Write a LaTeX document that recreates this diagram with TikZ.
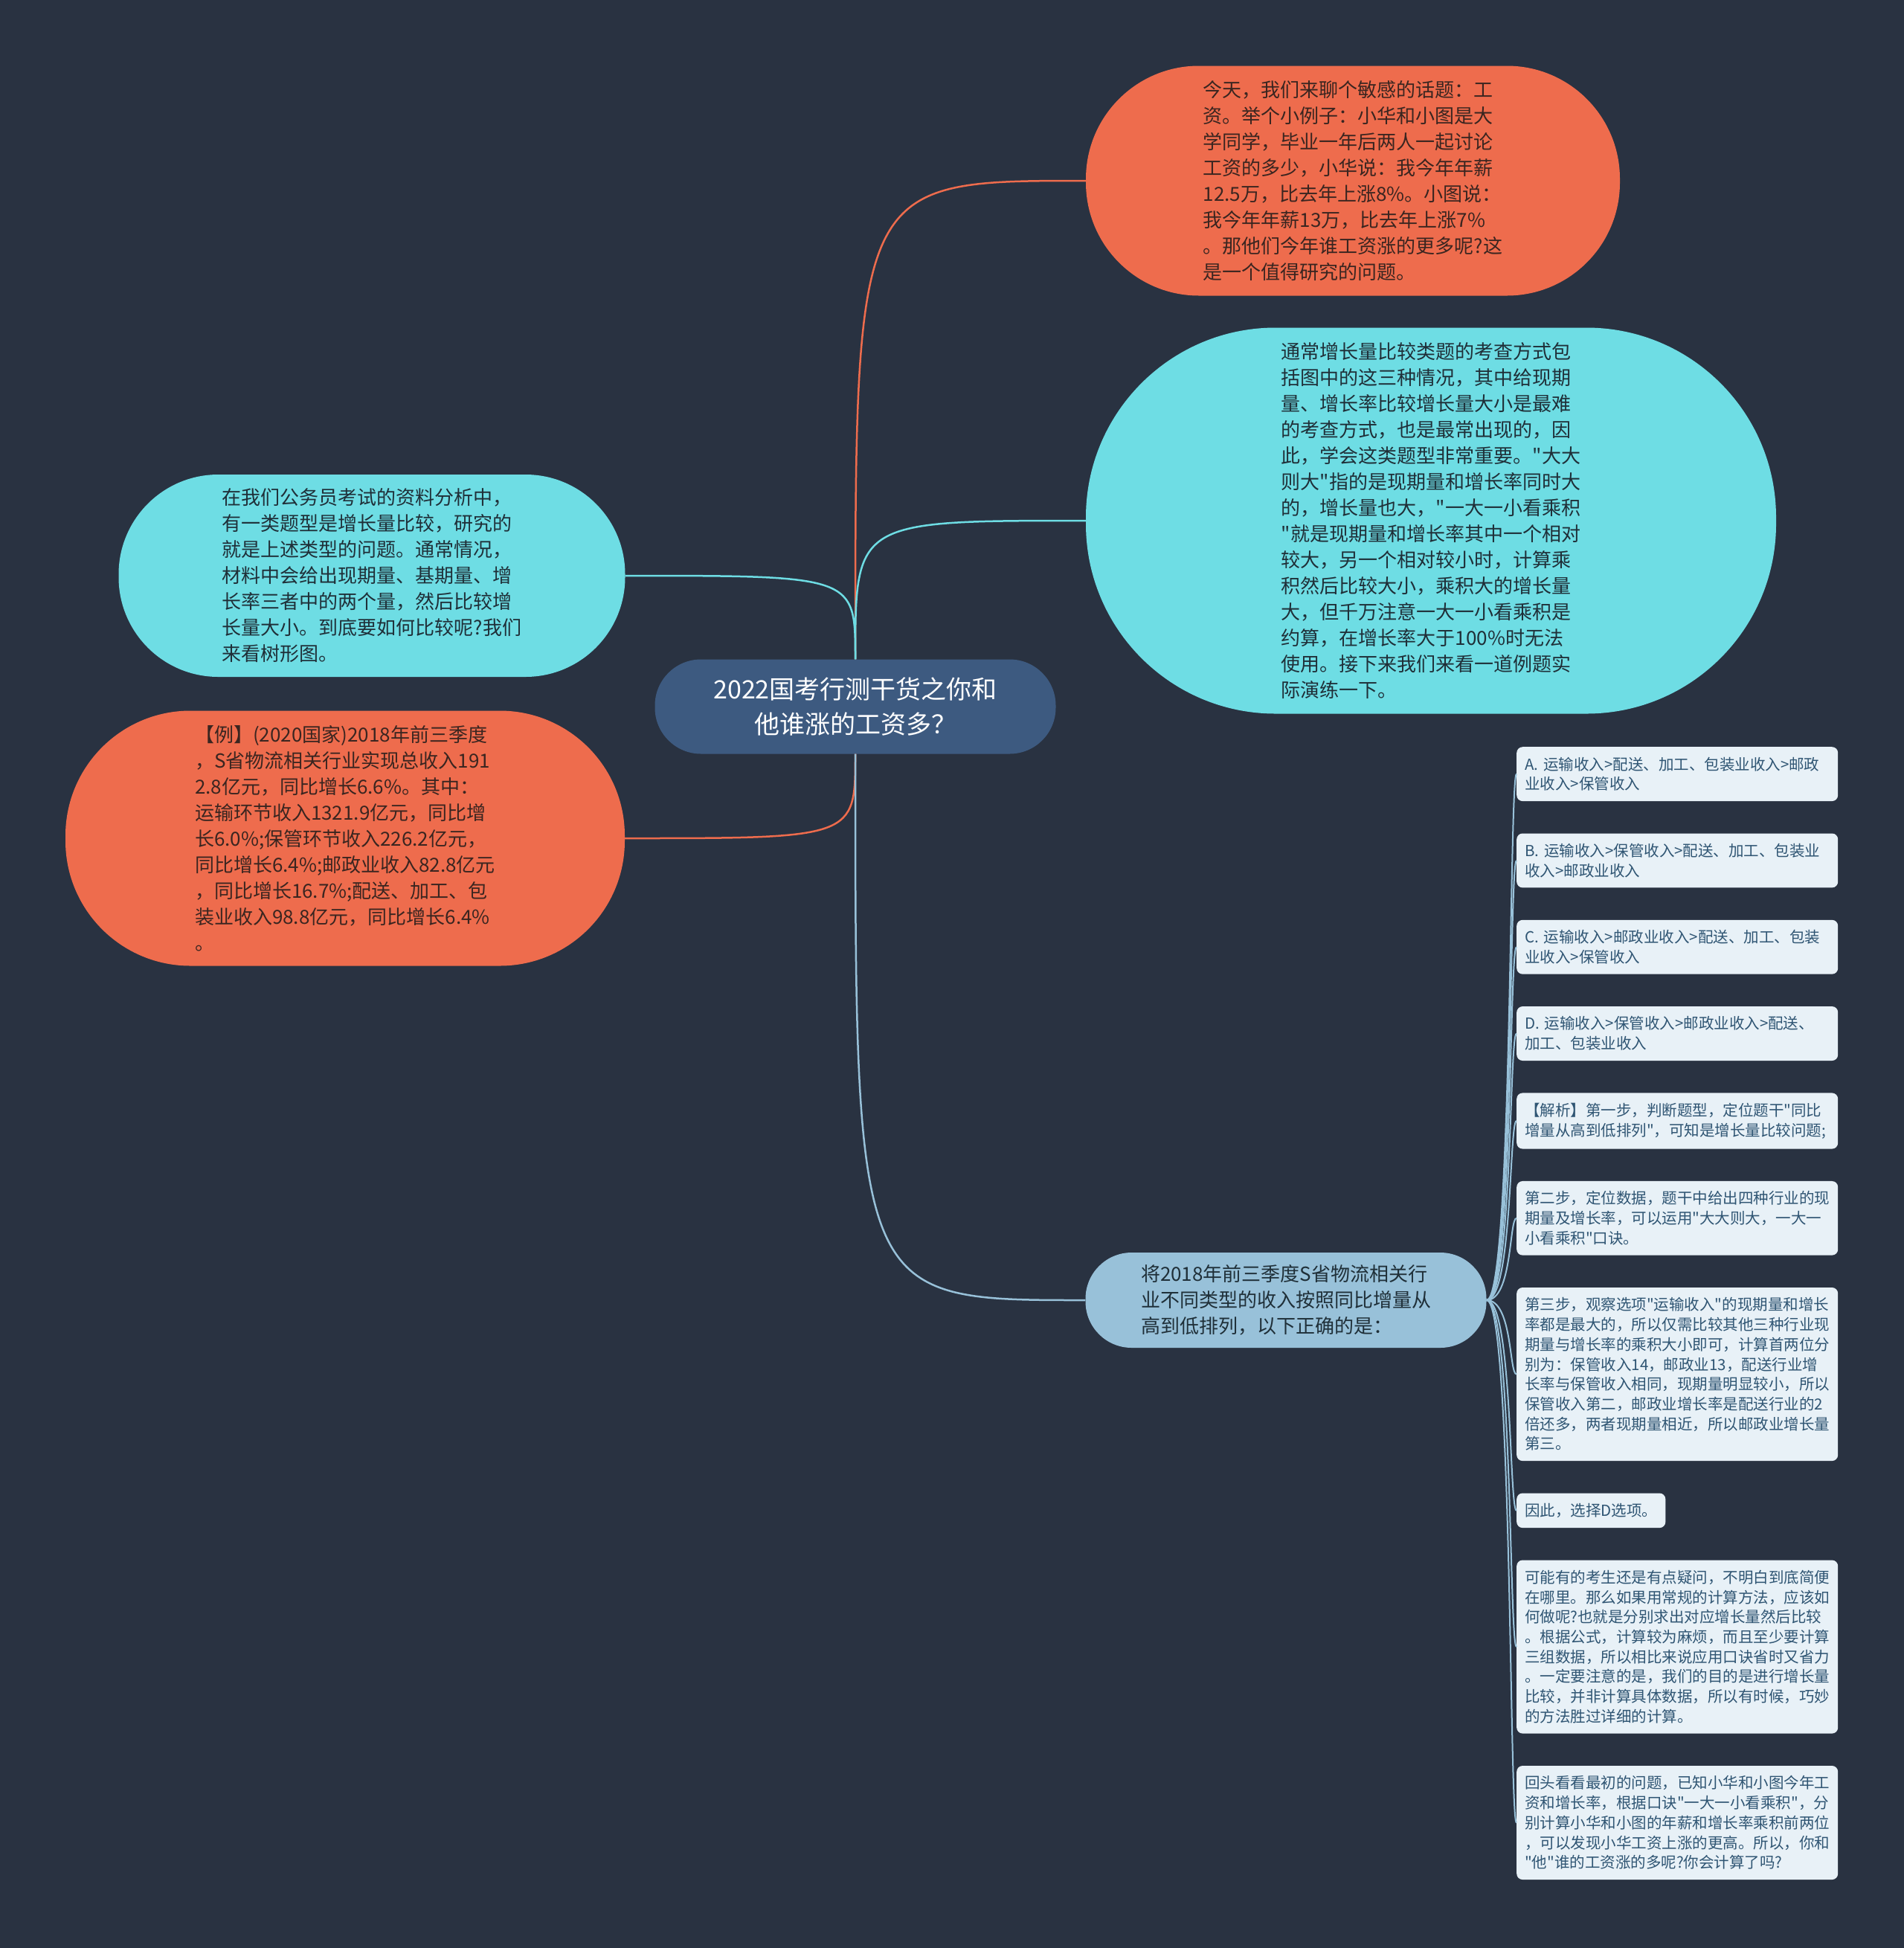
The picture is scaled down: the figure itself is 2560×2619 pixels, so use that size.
\documentclass[tikz,border=0pt]{standalone}
\usepackage{fontspec}
\newfontfamily\cjk{Noto Sans CJK SC}
\usetikzlibrary{positioning}
\definecolor{bgcol}{HTML}{293241}
\definecolor{hotfill}{HTML}{EE6C4D}
\definecolor{coolfill}{HTML}{6EDDE4}
\definecolor{hubfill}{HTML}{3D5A80}
\definecolor{askfill}{HTML}{98C1D9}
\definecolor{leaffill}{HTML}{E8F1F7}
\definecolor{leaftext}{HTML}{2F5573}
\definecolor{hottext}{HTML}{3A2520}
\definecolor{cooltext}{HTML}{1F2F38}

\begin{document}
\begin{tikzpicture}[
  x=1pt, y=-1pt,
  bubble/.style={rectangle, inner sep=0pt, align=left, font=\cjk\fontsize{26}{35}\selectfont},
  hot/.style={bubble, fill=hotfill, text=hottext},
  cool/.style={bubble, fill=coolfill, text=cooltext},
  hub/.style={rectangle, inner sep=0pt, align=center, fill=hubfill, text=white,
              minimum width=539pt, minimum height=127pt, rounded corners=62pt,
              font=\cjk\fontsize{34}{47}\selectfont},
  ask/.style={bubble, fill=askfill, text=cooltext},
  leaf/.style={rectangle, rounded corners=8pt, fill=leaffill, text=leaftext, align=left,
               text width=410pt, inner xsep=11pt, inner ysep=13.6pt,
               font=\cjk\fontsize{20.5}{26.7}\selectfont},
  hotlink/.style={draw=hotfill, line width=2.5pt},
  coollink/.style={draw=coolfill, line width=2.5pt},
  asklink/.style={draw=askfill, line width=2.5pt},
  leaflink/.style={draw=askfill, line width=2pt},
]
\useasboundingbox (0,0) rectangle (2560,2619);
\fill[bgcol] (0,0) rectangle (2560,2619);
% ---- root ----
\node[hub] (root) at (1150,950)
  {2022国考行测干货之你和\\他谁涨的工资多？};
% ---- right side ----
\node[hot, minimum width=718pt, minimum height=309pt, rounded corners=152pt] (today) at (1819,243)
  {今天，我们来聊个敏感的话题：工\\
   资。举个小例子：小华和小图是大\\
   学同学，毕业一年后两人一起讨论\\
   工资的多少，小华说：我今年年薪\\
   12.5万，比去年上涨8\%。小图说：\\
   我今年年薪13万，比去年上涨7\%\\
   。那他们今年谁工资涨的更多呢?这\\
   是一个值得研究的问题。};
\node[cool, minimum width=928pt, minimum height=519pt, rounded corners=255pt] (ways) at (1924,700)
  {通常增长量比较类题的考查方式包\\
   括图中的这三种情况，其中给现期\\
   量、增长率比较增长量大小是最难\\
   的考查方式，也是最常出现的，因\\
   此，学会这类题型非常重要。"大大\\
   则大"指的是现期量和增长率同时大\\
   的，增长量也大，"一大一小看乘积\\
   "就是现期量和增长率其中一个相对\\
   较大，另一个相对较小时，计算乘\\
   积然后比较大小，乘积大的增长量\\
   大，但千万注意一大一小看乘积是\\
   约算，在增长率大于100\%时无法\\
   使用。接下来我们来看一道例题实\\
   际演练一下。};
\node[ask, minimum width=539pt, minimum height=128pt, rounded corners=62pt] (ask) at (1729,1748)
  {将2018年前三季度S省物流相关行\\
   业不同类型的收入按照同比增量从\\
   高到低排列，以下正确的是：};
% ---- left side ----
\node[cool, minimum width=681pt, minimum height=272pt, rounded corners=134pt] (intro) at (500,774)
  {在我们公务员考试的资料分析中，\\
   有一类题型是增长量比较，研究的\\
   就是上述类型的问题。通常情况，\\
   材料中会给出现期量、基期量、增\\
   长率三者中的两个量，然后比较增\\
   长量大小。到底要如何比较呢?我们\\
   来看树形图。};
\node[hot, minimum width=752pt, minimum height=343pt, rounded corners=168pt] (example) at (464,1127)
  {【例】(2020国家)2018年前三季度\\
   ，S省物流相关行业实现总收入191\\
   2.8亿元，同比增长6.6\%。其中：\\
   运输环节收入1321.9亿元，同比增\\
   长6.0\%;保管环节收入226.2亿元，\\
   同比增长6.4\%;邮政业收入82.8亿元\\
   ，同比增长16.7\%;配送、加工、包\\
   装业收入98.8亿元，同比增长6.4\%\\
   。};
% ---- answer leaves ----
\node[leaf, anchor=north west] (optA) at (2039,1004)
  {A. 运输收入>配送、加工、包装业收入>邮政\\业收入>保管收入};
\node[leaf, below=43pt of optA.south west, anchor=north west] (optB)
  {B. 运输收入>保管收入>配送、加工、包装业\\收入>邮政业收入};
\node[leaf, below=43pt of optB.south west, anchor=north west] (optC)
  {C. 运输收入>邮政业收入>配送、加工、包装\\业收入>保管收入};
\node[leaf, below=43pt of optC.south west, anchor=north west] (optD)
  {D. 运输收入>保管收入>邮政业收入>配送、\\加工、包装业收入};
\node[leaf, below=43pt of optD.south west, anchor=north west] (step1)
  {【解析】第一步，判断题型，定位题干"同比\\增量从高到低排列"，可知是增长量比较问题;};
\node[leaf, below=43pt of step1.south west, anchor=north west] (step2)
  {第二步，定位数据，题干中给出四种行业的现\\
   期量及增长率，可以运用"大大则大，一大一\\
   小看乘积"口诀。};
\node[leaf, below=43pt of step2.south west, anchor=north west] (step3)
  {第三步，观察选项"运输收入"的现期量和增长\\
   率都是最大的，所以仅需比较其他三种行业现\\
   期量与增长率的乘积大小即可，计算首两位分\\
   别为：保管收入14，邮政业13，配送行业增\\
   长率与保管收入相同，现期量明显较小，所以\\
   保管收入第二，邮政业增长率是配送行业的2\\
   倍还多，两者现期量相近，所以邮政业增长量\\
   第三。};
\node[leaf, text width=, below=43pt of step3.south west, anchor=north west] (pick)
  {因此，选择D选项。};
\node[leaf, below=43pt of pick.south west, anchor=north west] (doubt)
  {可能有的考生还是有点疑问，不明白到底简便\\
   在哪里。那么如果用常规的计算方法，应该如\\
   何做呢?也就是分别求出对应增长量然后比较\\
   。根据公式，计算较为麻烦，而且至少要计算\\
   三组数据，所以相比来说应用口诀省时又省力\\
   。一定要注意的是，我们的目的是进行增长量\\
   比较，并非计算具体数据，所以有时候，巧妙\\
   的方法胜过详细的计算。};
\node[leaf, below=43pt of doubt.south west, anchor=north west] (back)
  {回头看看最初的问题，已知小华和小图今年工\\
   资和增长率，根据口诀"一大一小看乘积"，分\\
   别计算小华和小图的年薪和增长率乘积前两位\\
   ，可以发现小华工资上涨的更高。所以，你和\\
   "他"谁的工资涨的多呢?你会计算了吗?};
% ---- branches from the root ----
\draw[hotlink] (root.north) .. controls (root.north |- today.west) and (root.north |- today.west) .. (today.west);
\draw[coollink] (root.north) .. controls (root.north |- ways.west) and (root.north |- ways.west) .. (ways.west);
\draw[coollink] (root.north) .. controls (root.north |- intro.east) and (root.north |- intro.east) .. (intro.east);
\draw[hotlink] (root.south) .. controls (root.south |- example.east) and (root.south |- example.east) .. (example.east);
\draw[asklink] (root.south) .. controls (root.south |- ask.west) and (root.south |- ask.west) .. (ask.west);
% ---- leaves ----
\foreach \n in {optA,optB,optC,optD,step1,step2,step3,pick,doubt,back}
  \draw[leaflink] (ask.east) .. controls +(35pt,0pt) and +(-10pt,0pt) .. (\n.west);
\end{tikzpicture}
\end{document}
